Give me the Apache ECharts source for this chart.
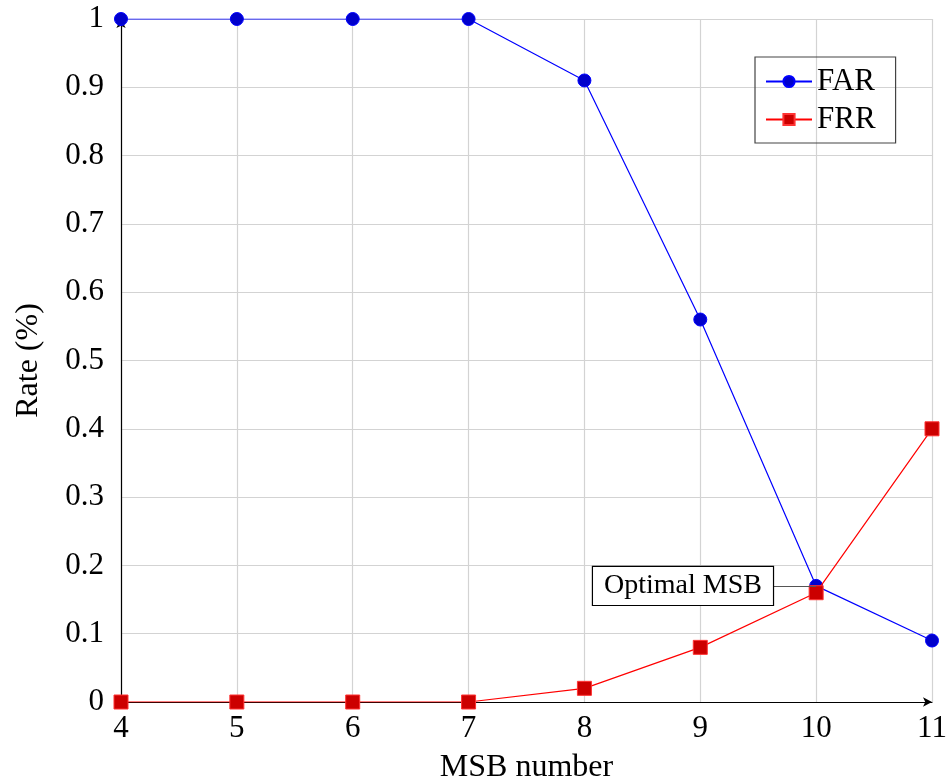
<!DOCTYPE html>
<html><head><meta charset="utf-8">
<script src="https://cdn.jsdelivr.net/npm/echarts@6/dist/echarts.min.js"></script>
<style>html,body{margin:0;padding:0;background:#fff}#c{width:947px;height:781px}</style>
</head><body><div id="c"></div>
<script>
var msb = [4, 5, 6, 7, 8, 9, 10, 11];
var far = [1, 1, 1, 1, 0.91, 0.56, 0.17, 0.09];
var frr = [0, 0, 0, 0, 0.02, 0.08, 0.16, 0.4];
var yTicks = [0, 0.1, 0.2, 0.3, 0.4, 0.5, 0.6, 0.7, 0.8, 0.9, 1];
var optimalX = 10, optimalY = 0.17, annotStartX = 9.627;

var FONT = 'Liberation Serif';
var chart = echarts.init(document.getElementById('c'), null, {renderer: 'canvas'});
function pairs(xs, ys) { return xs.map(function (x, i) { return [x, ys[i]]; }); }
chart.setOption({
  animation: false,
  textStyle: {fontFamily: FONT},
  grid: {left: 121, right: 15, top: 19, bottom: 79, containLabel: false, outerBoundsMode: 'none'},
  legend: {
    orient: 'vertical', left: 755, top: 57,
    padding: [9, 20, 8, 10], itemGap: 7,
    itemWidth: 46, itemHeight: 14,
    borderColor: '#444', borderWidth: 1.2, borderRadius: 0,
    textStyle: {fontFamily: FONT, fontSize: 31, color: '#000'},
    data: ['FAR', 'FRR']
  },
  xAxis: {
    type: 'value', min: 4, max: 11, interval: 1,
    name: 'MSB number', nameLocation: 'middle', nameGap: 50,
    nameTextStyle: {fontFamily: FONT, fontSize: 32, color: '#000'},
    axisLine: {show: true, symbol: ['none', 'arrow'], symbolSize: [7, 9], symbolOffset: [0, 0], lineStyle: {color: '#000', width: 1.2}},
    axisTick: {show: false},
    axisLabel: {fontFamily: FONT, fontSize: 31, color: '#000', margin: 11},
    splitLine: {show: true, lineStyle: {color: '#d3d3d3', width: 1.2}}
  },
  yAxis: {
    type: 'value', min: 0, max: 1, interval: 0.1,
    name: 'Rate (%)', nameLocation: 'middle', nameGap: 76,
    nameTextStyle: {fontFamily: FONT, fontSize: 32, color: '#000'},
    axisLine: {show: true, symbol: ['none', 'arrow'], symbolSize: [7, 9], lineStyle: {color: '#000', width: 1.2}},
    axisTick: {show: false},
    axisLabel: {fontFamily: FONT, fontSize: 31, color: '#000', margin: 17,
      formatter: function (v) { var r = Math.round(v * 10) / 10; return yTicks.indexOf(r) >= 0 ? String(r) : ''; }},
    splitLine: {show: true, lineStyle: {color: '#d3d3d3', width: 1.2}}
  },
  series: [
    {
      name: 'FAR', type: 'line', data: pairs(msb, far),
      symbol: 'circle', symbolSize: 13,
      lineStyle: {color: '#0000ff', width: 1.2},
      itemStyle: {color: '#0000cc', borderColor: '#0000ff', borderWidth: 1},
      z: 3,
      markLine: {
        silent: true, symbol: ['none', 'none'],
        lineStyle: {color: '#555', width: 1, type: 'solid'},
        label: {
          show: true, position: 'start', formatter: 'Optimal MSB',
          fontFamily: FONT, fontSize: 28, color: '#000',
          backgroundColor: '#fff', borderColor: '#000', borderWidth: 1.2,
          padding: [6, 11, 4, 11], distance: 0
        },
        data: [[{coord: [annotStartX, optimalY]}, {coord: [optimalX, optimalY]}]]
      }
    },
    {
      name: 'FRR', type: 'line', data: pairs(msb, frr),
      symbol: 'rect', symbolSize: 14,
      lineStyle: {color: '#ff0000', width: 1.2},
      itemStyle: {color: '#cc0000', borderColor: '#ff3333', borderWidth: 1},
      z: 4
    }
  ]
});
</script></body></html>
